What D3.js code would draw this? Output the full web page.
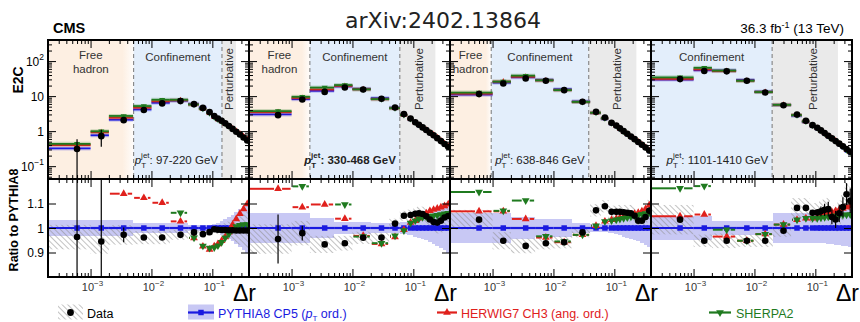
<!DOCTYPE html>
<html>
<head>
<meta charset="utf-8">
<script src="https://cdn.jsdelivr.net/npm/d3@7"></script>
<style>
	body { margin: 0; background: #fff; }
	svg { font-family: 'Liberation Sans', Arial, sans-serif; }
</style>
</head>
<body>
<div id="graphic"></div>
<script>
// delta r binning (same in every pT panel)
const binEdges = [0.0002, 0.001, 0.002, 0.005, 0.01, 0.02, 0.04, 0.06, 0.08, 0.1,
	0.115, 0.132, 0.152, 0.174, 0.2, 0.23, 0.264, 0.303, 0.348, 0.4];

const ptBins = ['97-220 GeV', '330-468 GeV', '638-846 GeV', '1101-1410 GeV'];

// region boundaries in delta r (free hadron | confinement | perturbative)
const hadronEnd = [0.0051, 0.002, 0.00095, null];
const confEnd = [0.144, 0.06, 0.038, 0.0195];
const pertEnd = [0.244, 0.23, 0.23, 0.235];
const pertLabelAt = [0.187, 0.124, 0.112, 0.091];

// E2C data, per pT bin
const e2c_97 = [0.31, 0.72, 2.06, 4.0, 6.2, 7.2, 5.9, 4.6, 3.5, 2.7, 2.3, 1.98, 1.68, 1.4, 1.16, 0.96, 0.8, 0.66, 0.54];
const e2c_330 = [2.86, 8.0, 13.2, 17.7, 15.5, 8.4, 4.75, 3.06, 2.3, 1.8, 1.52, 1.28, 1.08, 0.9, 0.76, 0.63, 0.52, 0.43, 0.36];
const e2c_638 = [11.4, 23, 32, 27.4, 14.8, 6.9, 3.56, 2.46, 1.73, 1.45, 1.2, 1.0, 0.84, 0.7, 0.59, 0.49, 0.41, 0.34, 0.28];
const e2c_1101 = [30.6, 52, 51, 27.4, 12.7, 5.5, 3.0, 1.97, 1.48, 1.25, 1.05, 0.88, 0.74, 0.62, 0.52, 0.44, 0.37, 0.31, 0.26];

// ratios to PYTHIA8
const dataR_97 = [0.963, 0.945, 0.972, 0.961, 0.961, 0.972, 0.982, 0.975, 0.983, 0.995, 0.993, 0.992, 0.992, 0.991, 0.991, 0.99, 0.99, 0.99, 0.99];
const dataR_330 = [0.955, 0.979, 0.933, 0.938, 0.96, 0.961, 1.018, 1.05, 1.053, 1.058, 1.06, 1.057, 1.048, 1.035, 1.024, 1.022, 1.03, 1.043, 1.049];
const dataR_638 = [1.034, 0.948, 0.927, 0.938, 0.942, 0.982, 1.072, 1.089, 1.066, 1.066, 1.066, 1.064, 1.062, 1.06, 1.05, 1.03, 1.03, 1.045, 1.07];
const dataR_1101 = [1.034, 0.948, 0.948, 0.948, 0.948, 0.989, 1.082, 1.082, 1.062, 1.063, 1.068, 1.074, 1.077, 1.045, 1.035, 1.06, 1.086, 1.138, 1.111];

const herwigR_97 = [1.25, 1.22, 1.14, 1.123, 1.103, 1.027, 0.959, 0.925, 0.912, 0.926, 0.935, 0.948, 0.963, 0.983, 1.013, 1.037, 1.058, 1.077, 1.098];
const herwigR_330 = [1.16, 1.085, 1.096, 1.038, 0.968, 0.935, 0.963, 0.993, 1.022, 1.03, 1.04, 1.05, 1.06, 1.07, 1.075, 1.08, 1.085, 1.09, 1.097];
const herwigR_638 = [1.068, 1.068, 1.037, 0.961, 0.942, 0.972, 1.009, 1.027, 1.034, 1.038, 1.042, 1.046, 1.05, 1.054, 1.058, 1.062, 1.068, 1.078, 1.093];
const herwigR_1101 = [1.048, 1.055, 0.965, 0.948, 0.975, 1.014, 1.034, 1.04, 1.04, 1.045, 1.05, 1.055, 1.06, 1.065, 1.07, 1.075, 1.08, 1.085, 1.09];

const sherpaR_97 = [1.35, 1.3, 1.28, 1.25, 1.22, 1.062, 0.96, 0.927, 0.918, 0.92, 0.928, 0.942, 0.96, 0.975, 0.995, 1.006, 1.011, 1.014, 1.014];
const sherpaR_330 = [1.25, 1.17, 1.24, 1.096, 0.965, 0.938, 0.968, 0.99, 1.02, 1.03, 1.038, 1.044, 1.046, 1.048, 1.05, 1.052, 1.055, 1.058, 1.06];
const sherpaR_638 = [1.147, 1.07, 1.112, 0.966, 0.945, 0.972, 1.009, 1.027, 1.03, 1.034, 1.037, 1.04, 1.043, 1.046, 1.05, 1.053, 1.056, 1.059, 1.062];
const sherpaR_1101 = [1.162, 1.171, 0.993, 0.948, 0.975, 1.014, 1.034, 1.04, 1.04, 1.04, 1.042, 1.044, 1.046, 1.048, 1.05, 1.052, 1.053, 1.054, 1.055];

// PYTHIA8 relative uncertainty (band), data total uncertainty (hatched), data stat error bars
const pyUnc_97 = [0.031, 0.031, 0.031, 0.022, 0.022, 0.022, 0.014, 0.014, 0.014, 0.016, 0.02, 0.028, 0.036, 0.045, 0.055, 0.065, 0.076, 0.088, 0.1];
const pyUnc_330 = [0.06, 0.06, 0.04, 0.025, 0.025, 0.02, 0.02, 0.025, 0.03, 0.035, 0.04, 0.045, 0.05, 0.058, 0.065, 0.072, 0.08, 0.09, 0.1];
const pyUnc_638 = [0.06, 0.06, 0.045, 0.035, 0.035, 0.02, 0.018, 0.018, 0.02, 0.025, 0.03, 0.035, 0.04, 0.045, 0.05, 0.055, 0.062, 0.07, 0.078];
const pyUnc_1101 = [0.05, 0.05, 0.03, 0.03, 0.03, 0.06, 0.06, 0.06, 0.06, 0.06, 0.06, 0.062, 0.064, 0.066, 0.068, 0.07, 0.072, 0.074, 0.076];

const dataUnc_97 = [0.05, 0.05, 0.04, 0.027, 0.027, 0.02, 0.015, 0.015, 0.015, 0.015, 0.018, 0.022, 0.028, 0.035, 0.042, 0.05, 0.058, 0.066, 0.075];
const dataUnc_330 = [0.06, 0.05, 0.035, 0.03, 0.025, 0.02, 0.02, 0.02, 0.022, 0.025, 0.028, 0.03, 0.033, 0.036, 0.04, 0.044, 0.048, 0.052, 0.056];
const dataUnc_638 = [0.04, 0.035, 0.03, 0.025, 0.025, 0.02, 0.025, 0.025, 0.025, 0.025, 0.028, 0.03, 0.032, 0.034, 0.036, 0.038, 0.04, 0.042, 0.045];
const dataUnc_1101 = [0.06, 0.025, 0.03, 0.025, 0.025, 0.025, 0.04, 0.04, 0.04, 0.04, 0.042, 0.044, 0.046, 0.048, 0.05, 0.052, 0.054, 0.056, 0.058];

const dataErr_97 = [0.9, 0.5, 0.03, 0, 0, 0, 0, 0, 0, 0, 0, 0, 0, 0, 0, 0, 0, 0, 0];
const dataErr_330 = [0.1, 0.03, 0, 0, 0, 0, 0, 0, 0, 0, 0, 0, 0, 0, 0, 0, 0, 0, 0];
const dataErr_638 = [0.005, 0, 0, 0, 0, 0, 0, 0, 0, 0, 0, 0, 0, 0, 0, 0, 0.01, 0.012, 0.015];
const dataErr_1101 = [0.005, 0.005, 0, 0, 0, 0, 0, 0, 0.01, 0.015, 0.02, 0.025, 0.03, 0.03, 0.035, 0.035, 0.04, 0.045, 0.05];

const panels = [
	{ e2c: e2c_97, dataR: dataR_97, hwR: herwigR_97, shR: sherpaR_97, pyU: pyUnc_97, dU: dataUnc_97, dE: dataErr_97 },
	{ e2c: e2c_330, dataR: dataR_330, hwR: herwigR_330, shR: sherpaR_330, pyU: pyUnc_330, dU: dataUnc_330, dE: dataErr_330 },
	{ e2c: e2c_638, dataR: dataR_638, hwR: herwigR_638, shR: sherpaR_638, pyU: pyUnc_638, dU: dataUnc_638, dE: dataErr_638 },
	{ e2c: e2c_1101, dataR: dataR_1101, hwR: herwigR_1101, shR: sherpaR_1101, pyU: pyUnc_1101, dU: dataUnc_1101, dE: dataErr_1101 }
];

const col = { blue: '#1a1ae0', red: '#e0201c', green: '#1f7a1f', band: '#c8c8f4', peach: '#fdefe2', sky: '#e3eefb', grey: '#eaeaea' };

const plotLeft = 48, panelW = 201;
const topY0 = 40, topY1 = 179, ratY0 = 179, ratY1 = 277;
const xDomain = [2e-4, 0.4];

const yTop = d3.scaleLog().domain([0.043, 400]).range([topY1, topY0]);
const yRat = d3.scaleLinear().domain([0.8, 1.2]).range([ratY1, ratY0]);

const svg = d3.select('#graphic').append('svg').attr('width', 860).attr('height', 322);
const defs = svg.append('defs');

// hatch pattern for data uncertainty
defs.append('pattern').attr('id', 'hatch').attr('patternUnits', 'userSpaceOnUse')
	.attr('width', 4).attr('height', 4).attr('patternTransform', 'rotate(-45)')
	.append('line').attr('x1', 0).attr('y1', 0).attr('x2', 0).attr('y2', 4)
	.attr('stroke', '#8e8e8e').attr('stroke-width', 1.1);

let grad = defs.append('linearGradient').attr('id', 'fadeHad');
grad.append('stop').attr('offset', 0).attr('stop-color', col.peach);
grad.append('stop').attr('offset', 0.87).attr('stop-color', col.peach);
grad.append('stop').attr('offset', 1).attr('stop-color', col.peach).attr('stop-opacity', 0.15);

const xMajor = [1e-3, 1e-2, 1e-1];
const xMinor = [];
[1e-4, 1e-3, 1e-2, 1e-1].forEach(d => { for (let k = 2; k <= 9; k++) { const v = d * k; if (v > xDomain[0] && v < xDomain[1]) xMinor.push(v); } });
const yMajor = [0.1, 1, 10, 100];
const yMinor = [];
[0.01, 0.1, 1, 10, 100].forEach(d => { for (let k = 2; k <= 9; k++) { const v = d * k; if (v > 0.043 && v < 400) yMinor.push(v); } });

const tri = d3.symbol().type(d3.symbolTriangle);
const sq = d3.symbol().type(d3.symbolSquare);

function addTicks(g, axis, tr) {
	const a = g.append('g').attr('transform', tr).call(axis);
	a.select('.domain').remove();
	a.selectAll('text').remove();
	a.selectAll('line').attr('stroke', '#000').attr('stroke-width', 1);
}

panels.forEach((p, k) => {
	const x0 = plotLeft + k * panelW, x1 = x0 + panelW;
	const x = d3.scaleLog().domain(xDomain).range([x0, x1]);
	const bins = p.e2c.map((v, i) => {
		const lo = binEdges[i], hi = binEdges[i + 1];
		const py = v / p.dataR[i];
		return { lo, hi, c: (lo + hi) / 2, v, py, hw: py * p.hwR[i], sh: py * p.shR[i],
			dr: p.dataR[i], hr: p.hwR[i], sr: p.shR[i], pu: p.pyU[i], du: p.dU[i], de: p.dE[i] };
	});

	defs.append('clipPath').attr('id', 'ct' + k).append('rect')
		.attr('x', x0).attr('y', topY0).attr('width', panelW).attr('height', topY1 - topY0);
	defs.append('clipPath').attr('id', 'cr' + k).append('rect')
		.attr('x', x0).attr('y', ratY0).attr('width', panelW).attr('height', ratY1 - ratY0);

	// ---------- top panel ----------
	const gt = svg.append('g').attr('clip-path', `url(#ct${k})`);
	const hEnd = hadronEnd[k];
	if (hEnd) {
		gt.append('rect').attr('x', x0).attr('y', topY0).attr('width', x(hEnd) - x0)
			.attr('height', topY1 - topY0).attr('fill', 'url(#fadeHad)');
	}
	const cStart = hEnd ? x(hEnd) : x0;
	gt.append('rect').attr('x', cStart).attr('y', topY0).attr('width', x(confEnd[k]) - cStart)
		.attr('height', topY1 - topY0).attr('fill', col.sky);
	gt.append('rect').attr('x', x(confEnd[k])).attr('y', topY0).attr('width', x(pertEnd[k]) - x(confEnd[k]))
		.attr('height', topY1 - topY0).attr('fill', col.grey);
	[hEnd, confEnd[k]].filter(d => d).forEach(d => {
		gt.append('line').attr('x1', x(d)).attr('x2', x(d)).attr('y1', topY0).attr('y2', topY1)
			.attr('stroke', '#777').attr('stroke-width', 1).attr('stroke-dasharray', '4,3');
	});

	// region labels
	const lab = gt.append('g').attr('font-size', 11.5).attr('fill', '#333').attr('text-anchor', 'middle');
	if (hEnd) {
		const cx = (x0 + x(hEnd)) / 2;
		lab.append('text').attr('x', cx).attr('y', 59).text('Free');
		lab.append('text').attr('x', cx).attr('y', 73).text('hadron');
	}
	lab.append('text').attr('x', (cStart + x(confEnd[k])) / 2).attr('y', 61).text('Confinement');
	lab.append('text').attr('transform', `translate(${x(pertLabelAt[k]) + 4},48) rotate(-90)`)
		.attr('text-anchor', 'end').text('Perturbative');

	// pT label
	const pl = gt.append('text').attr('x', x(confEnd[k]) - 4).attr('y', 164).attr('text-anchor', 'end')
		.attr('font-size', 11.5).attr('fill', '#222').attr('font-weight', k === 1 ? 'bold' : 'normal');
	pl.append('tspan').attr('font-style', 'italic').text('p');
	pl.append('tspan').attr('dy', 4).attr('font-size', 8).text('T');
	pl.append('tspan').attr('dy', -10).attr('dx', -5).attr('font-size', 8).text('jet');
	pl.append('tspan').attr('dy', 6).text(': ' + ptBins[k]);

	// MC bars (PYTHIA, HERWIG, SHERPA)
	[['py', col.blue], ['hw', col.red], ['sh', col.green]].forEach(([key, c]) => {
		gt.selectAll(null).data(bins).join('line')
			.attr('x1', d => x(d.lo)).attr('x2', d => x(d.hi))
			.attr('y1', d => yTop(d[key])).attr('y2', d => yTop(d[key]))
			.attr('stroke', c).attr('stroke-opacity', 0.22).attr('stroke-width', 4);
		gt.selectAll(null).data(bins).join('line')
			.attr('x1', d => x(d.lo)).attr('x2', d => x(d.hi))
			.attr('y1', d => yTop(d[key])).attr('y2', d => yTop(d[key]))
			.attr('stroke', c).attr('stroke-width', 1.8);
		gt.selectAll(null).data(bins).join('path')
			.attr('d', key === 'py' ? sq.size(12)() : tri.size(16)())
			.attr('transform', d => `translate(${x(d.c)},${yTop(d[key])})${key === 'sh' ? ' rotate(180)' : ''}`)
			.attr('fill', c);
	});
	// data points
	gt.selectAll(null).data(bins.filter(d => d.de > 0)).join('line')
		.attr('x1', d => x(d.c)).attr('x2', d => x(d.c))
		.attr('y1', d => yTop(d.v * (1 + d.de))).attr('y2', d => yTop(Math.max(d.v * (1 - d.de), 1e-3)))
		.attr('stroke', '#000').attr('stroke-width', 1.2);
	gt.selectAll(null).data(bins).join('circle')
		.attr('cx', d => x(d.c)).attr('cy', d => yTop(d.v)).attr('r', 3.3).attr('fill', '#000');

	// ---------- ratio panel ----------
	const gr = svg.append('g').attr('clip-path', `url(#cr${k})`);
	gr.selectAll(null).data(bins).join('rect')
		.attr('x', d => x(d.lo)).attr('width', d => x(d.hi) - x(d.lo))
		.attr('y', d => yRat(1 + d.pu)).attr('height', d => yRat(1 - d.pu) - yRat(1 + d.pu))
		.attr('fill', col.band).attr('shape-rendering', 'crispEdges');
	gr.selectAll(null).data(bins).join('rect')
		.attr('x', d => x(d.lo)).attr('width', d => x(d.hi) - x(d.lo))
		.attr('y', d => yRat(d.dr + d.du)).attr('height', d => yRat(d.dr - d.du) - yRat(d.dr + d.du))
		.attr('fill', 'url(#hatch)');

	// PYTHIA line at one
	gr.selectAll(null).data(bins).join('line')
		.attr('x1', d => x(d.lo)).attr('x2', d => x(d.hi))
		.attr('y1', yRat(1)).attr('y2', yRat(1))
		.attr('stroke', col.blue).attr('stroke-width', 2.2);
	gr.selectAll(null).data(bins).join('path')
		.attr('d', sq.size(30)())
		.attr('transform', d => `translate(${x(d.c)},${yRat(1)})`).attr('fill', col.blue);

	// HERWIG and SHERPA ratios
	[['hr', col.red, false], ['sr', col.green, true]].forEach(([key, c, down]) => {
		gr.selectAll(null).data(bins).join('line')
			.attr('x1', d => x(d.lo) + 1).attr('x2', d => Math.max(x(d.c) - 4, x(d.lo) + 1))
			.attr('y1', d => yRat(d[key])).attr('y2', d => yRat(d[key]))
			.attr('stroke', c).attr('stroke-width', 2);
		gr.selectAll(null).data(bins).join('line')
			.attr('x1', d => Math.min(x(d.c) + 4, x(d.hi) - 1)).attr('x2', d => x(d.hi) - 1)
			.attr('y1', d => yRat(d[key])).attr('y2', d => yRat(d[key]))
			.attr('stroke', c).attr('stroke-width', 2);
		gr.selectAll(null).data(bins).join('path')
			.attr('d', tri.size(26)())
			.attr('transform', d => `translate(${x(d.c)},${yRat(d[key])})${down ? ' rotate(180)' : ''}`)
			.attr('fill', c);
	});

	// data
	gr.selectAll(null).data(bins.filter(d => d.de > 0)).join('line')
		.attr('x1', d => x(d.c)).attr('x2', d => x(d.c))
		.attr('y1', d => yRat(d.dr + d.de)).attr('y2', d => yRat(d.dr - d.de))
		.attr('stroke', '#000').attr('stroke-width', 1.2);
	gr.selectAll(null).data(bins).join('circle')
		.attr('cx', d => x(d.c)).attr('cy', d => yRat(d.dr)).attr('r', 3.3).attr('fill', '#000');

	// ---------- ticks and frames ----------
	const gk = svg.append('g');
	[[topY0, topY1, yTop, yMajor, yMinor], [ratY0, ratY1, yRat, [0.9, 1, 1.1], []]].forEach(([a, b, ys, maj, mnr]) => {
		addTicks(gk, d3.axisTop(x).tickValues(xMajor).tickSize(-8), `translate(0,${a})`);
		addTicks(gk, d3.axisTop(x).tickValues(xMinor).tickSize(-4), `translate(0,${a})`);
		addTicks(gk, d3.axisBottom(x).tickValues(xMajor).tickSize(-8), `translate(0,${b})`);
		addTicks(gk, d3.axisBottom(x).tickValues(xMinor).tickSize(-4), `translate(0,${b})`);
		addTicks(gk, d3.axisLeft(ys).tickValues(maj).tickSize(-8), `translate(${x0},0)`);
		addTicks(gk, d3.axisRight(ys).tickValues(maj).tickSize(-8), `translate(${x1},0)`);
		if (mnr.length) {
			addTicks(gk, d3.axisLeft(ys).tickValues(mnr).tickSize(-4), `translate(${x0},0)`);
			addTicks(gk, d3.axisRight(ys).tickValues(mnr).tickSize(-4), `translate(${x1},0)`);
		}
		gk.append('rect').attr('x', x0).attr('y', a).attr('width', panelW).attr('height', b - a)
			.attr('fill', 'none').attr('stroke', '#000').attr('stroke-width', 2);
	});

	// x tick labels
	xMajor.forEach((v, j) => {
		const t = svg.append('text').attr('x', x(v) + 2).attr('y', 291).attr('text-anchor', 'middle')
			.attr('font-size', 11).attr('fill', '#333');
		t.append('tspan').text('10');
		t.append('tspan').attr('dy', -5).attr('font-size', 8).text('\u2212' + (3 - j));
	});
	svg.append('text').attr('x', x1 - 16).attr('y', 301).attr('font-size', 23).attr('fill', '#000').text('\u0394r');
});

// y tick labels (first panel only)
[[100, '2'], [10, null], [1, null], [0.1, '\u22121']].forEach(([v, sup]) => {
	const t = svg.append('text').attr('x', 44).attr('y', yTop(v) + 4.5).attr('text-anchor', 'end').attr('font-size', 12);
	t.append('tspan').text(v === 1 ? '1' : '10');
	if (sup) t.append('tspan').attr('dy', -6).attr('font-size', 8.5).text(sup);
});
[[1.1, '1.1'], [1, '1'], [0.9, '0.9']].forEach(([v, s]) => {
	svg.append('text').attr('x', 44).attr('y', yRat(v) + 4.5).attr('text-anchor', 'end').attr('font-size', 12).text(s);
});

// axis titles and header
svg.append('text').attr('transform', 'translate(22.5,80) rotate(-90)').attr('text-anchor', 'middle')
	.attr('font-size', 14).attr('font-weight', 'bold').text('E2C');
svg.append('text').attr('transform', 'translate(17.5,220) rotate(-90)').attr('text-anchor', 'middle')
	.attr('font-size', 12.5).attr('font-weight', 'bold').text('Ratio to PYTHIA8');
svg.append('text').attr('x', 53).attr('y', 33).attr('font-size', 14.5).attr('font-weight', 'bold').text('CMS');
svg.append('text').attr('x', 443).attr('y', 28).attr('text-anchor', 'middle')
	.attr('font-family', "'DejaVu Sans', sans-serif").attr('font-size', 22).attr('fill', '#222').text('arXiv:2402.13864');
const lumi = svg.append('text').attr('x', 844).attr('y', 33).attr('text-anchor', 'end').attr('font-size', 13.5);
lumi.append('tspan').text('36.3 fb');
lumi.append('tspan').attr('dy', -5).attr('font-size', 9).text('-1');
lumi.append('tspan').attr('dy', 5).text(' (13 TeV)');

// legend
const lg = svg.append('g').attr('font-size', 12.5);
const ly = 312.5;
lg.append('rect').attr('x', 58).attr('y', ly - 8).attr('width', 25).attr('height', 15).attr('fill', 'url(#hatch)');
lg.append('circle').attr('cx', 70.5).attr('cy', ly).attr('r', 3.4).attr('fill', '#000');
lg.append('text').attr('x', 87).attr('y', ly + 5).text('Data');

lg.append('rect').attr('x', 188).attr('y', ly - 8).attr('width', 26).attr('height', 15).attr('fill', col.band);
lg.append('line').attr('x1', 188).attr('x2', 214).attr('y1', ly).attr('y2', ly).attr('stroke', col.blue).attr('stroke-width', 2.2);
lg.append('path').attr('d', sq.size(30)()).attr('transform', `translate(201,${ly})`).attr('fill', col.blue);
const tp = lg.append('text').attr('x', 218).attr('y', ly + 5).attr('fill', col.blue);
tp.append('tspan').text('PYTHIA8 CP5 (');
tp.append('tspan').attr('font-style', 'italic').text('p');
tp.append('tspan').attr('dy', 3).attr('font-size', 8).text('T');
tp.append('tspan').attr('dy', -3).text(' ord.)');

lg.append('line').attr('x1', 437).attr('x2', 457).attr('y1', ly).attr('y2', ly).attr('stroke', col.red).attr('stroke-width', 2.2);
lg.append('path').attr('d', tri.size(26)()).attr('transform', `translate(447,${ly})`).attr('fill', col.red);
lg.append('text').attr('x', 461).attr('y', ly + 5).attr('fill', col.red).text('HERWIG7 CH3 (ang. ord.)');

lg.append('line').attr('x1', 709).attr('x2', 731).attr('y1', ly).attr('y2', ly).attr('stroke', col.green).attr('stroke-width', 2.2);
lg.append('path').attr('d', tri.size(26)()).attr('transform', `translate(720,${ly}) rotate(180)`).attr('fill', col.green);
lg.append('text').attr('x', 736).attr('y', ly + 5).attr('fill', col.green).text('SHERPA2');
</script>
</body>
</html>
